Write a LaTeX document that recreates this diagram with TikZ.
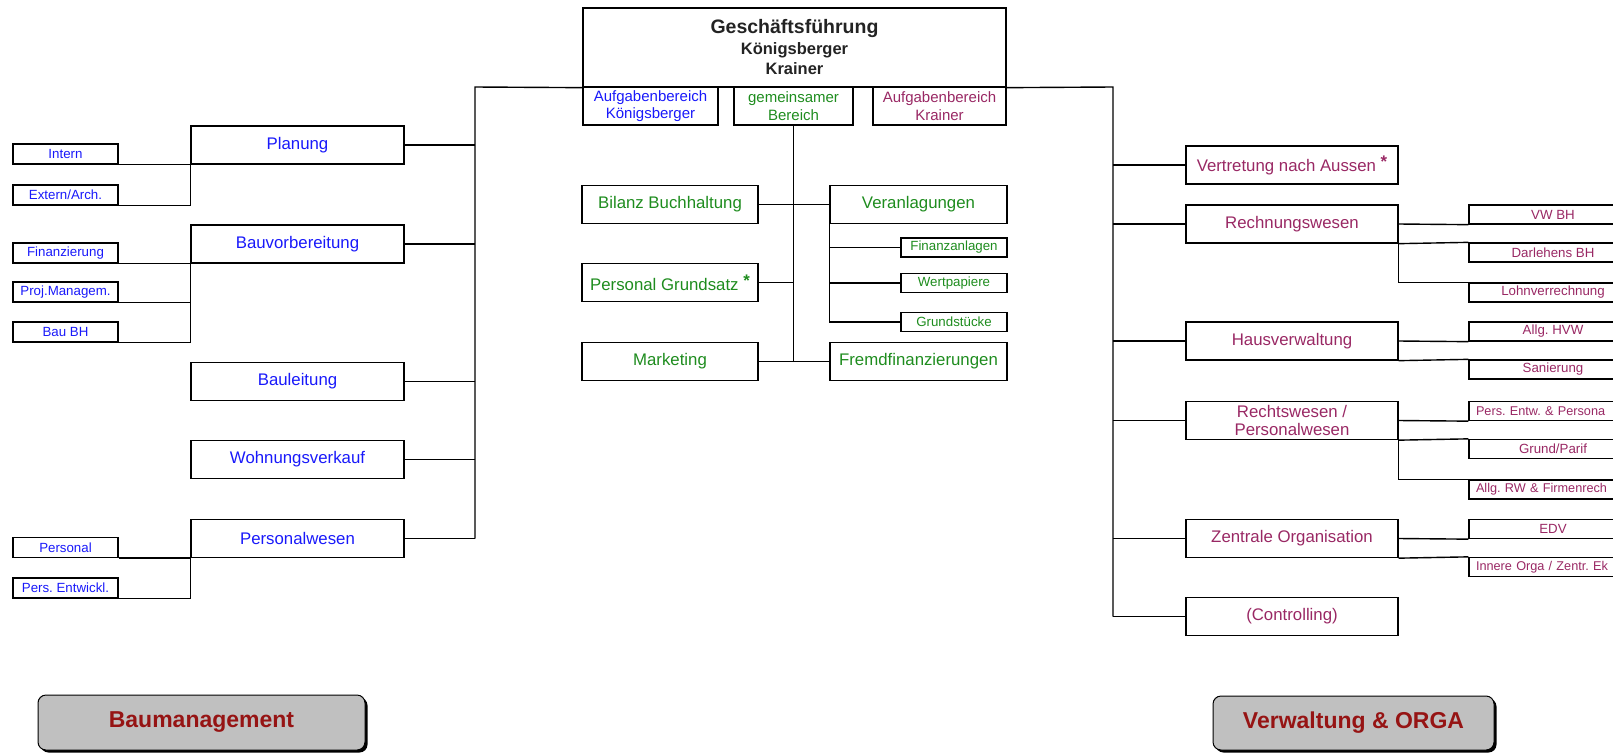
\documentclass[tikz,border=0pt]{standalone}
\usepackage{fontspec}
\setmainfont{Liberation Sans}
\usetikzlibrary{shadows}
\definecolor{baublue}{RGB}{25,25,250}
\definecolor{gemgreen}{RGB}{30,140,30}
\definecolor{verwplum}{RGB}{153,40,100}
\definecolor{knopfrot}{RGB}{150,20,20}
\definecolor{knopfgrau}{RGB}{192,192,192}
\definecolor{gfgrau}{RGB}{35,35,35}
\frenchspacing
\begin{document}
\begin{tikzpicture}
[x=1pt,y=-1pt,
  boxdecorate/.style={shape=rectangle,draw,line width=1.3pt,inner sep=0pt,align=center},%
  bigbox/.style={boxdecorate,minimum height=38pt,font=\fontsize{16.8}{17.5}\selectfont},%
  smallbox/.style={boxdecorate,minimum height=20pt,font=\fontsize{13.3}{14}\selectfont},%
  cutbox/.style={smallbox,minimum height=19pt,inner xsep=7pt,text width=154pt,align=left,
    font=\fontsize{12.7}{14}\selectfont},%
  knopfdecorate/.style={shape=rectangle,draw,line width=1pt,rounded corners=8pt,fill=knopfgrau,
    drop shadow={shadow xshift=2.5pt,shadow yshift=-2.5pt,fill=black,opacity=1},
    text=knopfrot,font=\fontsize{23}{24}\selectfont\bfseries},%
  linedecorate/.style={-,line width=1.4pt}]
\useasboundingbox (0,0) rectangle (1613,755);
% Geschaeftsfuehrung
\node (gf) at (794.5,47.5) [boxdecorate,minimum width=423pt,minimum height=79pt,text=gfgrau,
  font=\fontsize{16.5}{20.5}\selectfont\bfseries]
  {{\fontsize{19.5}{20.5}\selectfont Geschäftsführung}\\Königsberger\\Krainer};
\node (akoen) at (650.5,106) [boxdecorate,minimum width=135pt,minimum height=38pt,text=baublue,
  font=\fontsize{15}{17.5}\selectfont] {Aufgabenbereich\\Königsberger};
\node (gemein) at (793.5,106) [boxdecorate,minimum width=119pt,minimum height=38pt,text=gemgreen,
  font=\fontsize{15}{17.5}\selectfont] {gemeinsamer\\Bereich};
\node (akrain) at (939.5,106) [boxdecorate,minimum width=133pt,minimum height=38pt,text=verwplum,
  font=\fontsize{15}{17.5}\selectfont] {Aufgabenbereich\\Krainer};
\coordinate (lspine) at (475,87);
\coordinate (rspine) at (1113,87);
% Baumanagement (links)
\begin{scope}[every node/.append style={text=baublue}]
\node (planung) at (297.5,145) [bigbox,minimum width=213pt] {Planung};
\node (bauvor) at (297.5,244) [bigbox,minimum width=213pt] {Bauvorbereitung};
\node (bauleit) at (297.5,381.5) [bigbox,minimum width=213pt] {Bauleitung};
\node (wohnung) at (297.5,459.5) [bigbox,minimum width=213pt] {Wohnungsverkauf};
\node (perswesen) at (297.5,538.5) [bigbox,minimum width=213pt] {Personalwesen};
\node (intern) at (65.5,154) [smallbox,minimum width=105pt] {Intern};
\node (extern) at (65.5,195) [smallbox,minimum width=105pt] {Extern/Arch.};
\node (finanz) at (65.5,253) [smallbox,minimum width=105pt] {Finanzierung};
\node (projman) at (65.5,292) [smallbox,minimum width=105pt] {Proj.Managem.};
\node (baubh) at (65.5,332) [smallbox,minimum width=105pt] {Bau BH};
\node (personal) at (65.5,547.5) [smallbox,minimum width=105pt] {Personal};
\node (persentw) at (65.5,588) [smallbox,minimum width=105pt] {Pers. Entwickl.};
\end{scope}
% gemeinsamer Bereich (Mitte)
\begin{scope}[every node/.append style={text=gemgreen}]
\node (bilanz) at (670,204.5) [bigbox,minimum width=176pt] {Bilanz Buchhaltung};
\node (persgrund) at (670,282.5) [bigbox,minimum width=176pt] {Personal Grundsatz \raisebox{4pt}{\textbf{*}}};
\node (marketing) at (670,361.5) [bigbox,minimum width=176pt] {Marketing};
\node (veranl) at (918.5,204.5) [bigbox,minimum width=177pt] {Veranlagungen};
\node (fremd) at (918.5,361.5) [bigbox,minimum width=177pt] {Fremdfinanzierungen};
\node (finanzanl) at (954,247.5) [smallbox,minimum width=106pt,minimum height=19pt] {Finanzanlagen};
\node (wertp) at (954,283) [smallbox,minimum width=106pt,minimum height=19pt] {Wertpapiere};
\node (grundst) at (954,322) [smallbox,minimum width=106pt,minimum height=19pt] {Grundstücke};
\end{scope}
% Verwaltung (rechts)
\begin{scope}[every node/.append style={text=verwplum}]
\node (vertretung) at (1292,165) [bigbox,minimum width=212pt] {Vertretung nach Aussen \raisebox{4pt}{\textbf{*}}};
\node (rechnung) at (1292,224) [bigbox,minimum width=212pt] {Rechnungswesen};
\node (hausverw) at (1292,341) [bigbox,minimum width=212pt] {Hausverwaltung};
\node (rechts) at (1292,420.5) [bigbox,minimum width=212pt] {Rechtswesen /\\Personalwesen};
\node (zentral) at (1292,538.5) [bigbox,minimum width=212pt] {Zentrale Organisation};
\node (controlling) at (1292,616.5) [bigbox,minimum width=212pt] {(Controlling)};
\node (vwbh) at (1553,214.5) [smallbox,minimum width=168pt,minimum height=19pt] {VW BH};
\node (darl) at (1553,252.5) [smallbox,minimum width=168pt,minimum height=19pt] {Darlehens BH};
\node (lohn) at (1553,292.5) [smallbox,minimum width=168pt,minimum height=19pt] {Lohnverrechnung};
\node (allghvw) at (1553,331.5) [smallbox,minimum width=168pt,minimum height=19pt] {Allg. HVW};
\node (sanierung) at (1553,369.5) [smallbox,minimum width=168pt,minimum height=19pt] {Sanierung};
\node (persentwr) at (1553,411) [cutbox] {Pers. Entw. \& Persona};
\node (grundparif) at (1553,449) [smallbox,minimum width=168pt,minimum height=19pt] {Grund/Parif};
\node (allgrw) at (1553,489.5) [cutbox] {Allg. RW \& Firmenrech};
\node (edv) at (1553,529) [smallbox,minimum width=168pt,minimum height=19pt] {EDV};
\node (innere) at (1553,567) [cutbox] {Innere Orga / Zentr. Ek};
\end{scope}
% Knoepfe
\node (baum) at (201.5,722.5) [knopfdecorate,minimum width=327pt,minimum height=55pt] {Baumanagement};
\node (verw) at (1353.5,723) [knopfdecorate,minimum width=281pt,minimum height=54pt] {Verwaltung \& ORGA};
% edges or lines
\draw[linedecorate] (gf.south west) -- (lspine) -- (lspine |- perswesen.east);
\draw[linedecorate] (gf.south east) -- (rspine) -- (rspine |- controlling.west);
\foreach \n in {planung,bauvor,bauleit,wohnung,perswesen}
  \draw[linedecorate] (\n.east) -- (\n.east -| lspine);
\foreach \n in {vertretung,rechnung,hausverw,rechts,zentral,controlling}
  \draw[linedecorate] (\n.west) -- (\n.west -| rspine);
% links
\path
(intern.south east) edge[linedecorate] (planung.south west)
(finanz.south east) edge[linedecorate] (bauvor.south west)
(personal.south east) edge[linedecorate] (perswesen.south west);
\draw[linedecorate] (planung.south west) |- (extern.south east);
\draw[linedecorate] (bauvor.south west) |- (baubh.south east);
\draw[linedecorate] (projman.south east) -- (projman.south east -| bauvor.south west);
\draw[linedecorate] (perswesen.south west) |- (persentw.south east);
% Mitte
\path
(bilanz.east) edge[linedecorate] (veranl.west)
(marketing.east) edge[linedecorate] (fremd.west);
\draw[linedecorate] (gemein.south) -- (gemein.south |- marketing.east);
\draw[linedecorate] (persgrund.east) -- (persgrund.east -| gemein.south);
\draw[linedecorate] (veranl.south west) |- (grundst.west);
\draw[linedecorate] (finanzanl.west) -- (finanzanl.west -| veranl.south west);
\draw[linedecorate] (wertp.west) -- (wertp.west -| veranl.south west);
% rechts
\path
(rechnung.east) edge[linedecorate] (vwbh.south west)
(rechnung.south east) edge[linedecorate] (darl.north west)
(hausverw.east) edge[linedecorate] (allghvw.south west)
(hausverw.south east) edge[linedecorate] (sanierung.north west)
(rechts.east) edge[linedecorate] (persentwr.south west)
(rechts.south east) edge[linedecorate] (grundparif.north west)
(zentral.east) edge[linedecorate] (edv.south west)
(zentral.south east) edge[linedecorate] (innere.north west);
\draw[linedecorate] (rechnung.south east) |- (lohn.north west);
\draw[linedecorate] (rechts.south east) |- (allgrw.north west);
\end{tikzpicture}
\end{document}
